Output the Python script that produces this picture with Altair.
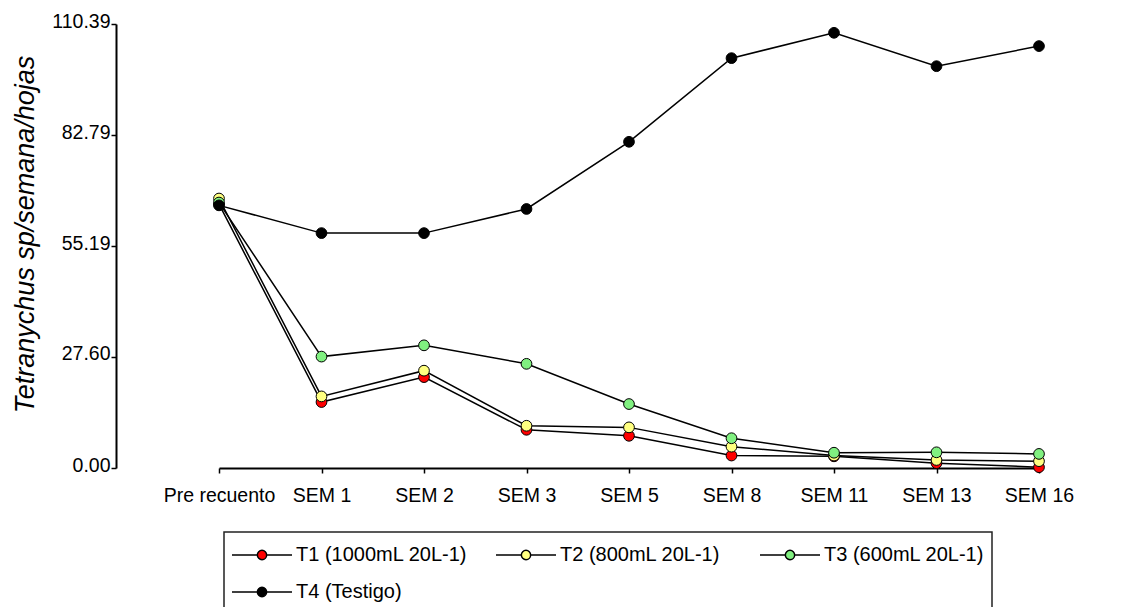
import altair as alt
import pandas as pd

weeks = ["Pre recuento", "SEM 1", "SEM 2", "SEM 3", "SEM 5", "SEM 8", "SEM 11", "SEM 13", "SEM 16"]
series_names = ["T1 (1000mL 20L-1)", "T2 (800mL 20L-1)", "T3 (600mL 20L-1)", "T4 (Testigo)"]
t1 = [65.6, 16.4, 22.6, 9.5, 8.0, 3.1, 2.9, 1.2, 0.2]
t2 = [67.0, 17.8, 24.2, 10.5, 10.1, 5.3, 3.1, 2.0, 1.7]
t3 = [66.0, 27.7, 30.5, 25.9, 15.9, 7.4, 3.8, 3.9, 3.5]
t4 = [65.3, 58.4, 58.4, 64.4, 81.1, 101.9, 108.2, 99.9, 104.9]
fill_colors = ["#ff0000", "#ffff80", "#80f080", "#000000"]
y_ticks = [0.0, 27.60, 55.19, 82.79, 110.39]

rows = []
for name, vals in zip(series_names, [t1, t2, t3, t4]):
    for i, (w, v) in enumerate(zip(weeks, vals)):
        rows.append({"week": w, "value": v, "series": name, "order": series_names.index(name)})
df = pd.DataFrame(rows)

x_enc = alt.X("week:N", sort=weeks,
              scale=alt.Scale(type="point", domain=weeks, range=[103, 923], padding=0),
              axis=alt.Axis(title=None, labelAngle=0, labelFontSize=19.5, labelFont="Liberation Sans",
                            labelColor="black", labelBaseline="alphabetic", labelPadding=28,
                            tickSize=5, labelAlign="center"))
y_enc = alt.Y("value:Q",
              scale=alt.Scale(domain=[0, 110.39], nice=False, zero=True),
              axis=alt.Axis(title="Tetranychus sp/semana/hojas", values=y_ticks, format=".2f",
                            labelFontSize=19.5, labelFont="Liberation Sans", labelColor="black",
                            labelPadding=1, labelOffset=-3, tickSize=5,
                            titleFont="Liberation Sans", titleFontSize=27, titleFontStyle="italic",
                            titleFontWeight="normal", titleColor="black",
                            titleAngle=-90, titleAlign="center", titleBaseline="alphabetic",
                            titleX=-83, titleY=210))

lines = alt.Chart(df).mark_line(color="black", strokeWidth=1.5).encode(
    x=x_enc, y=y_enc, detail="series:N", order="order:Q"
)

sym_path = "M-1,0H0.69M1.31,0H3M0.69,0A0.31,0.31 0 1,0 1.31,0A0.31,0.31 0 1,0 0.69,0Z"

points = alt.Chart(df).mark_point(filled=True, size=115, stroke="black", strokeWidth=1, opacity=1).encode(
    x=x_enc, y=y_enc,
    fill=alt.Fill("series:N", sort=series_names,
                  scale=alt.Scale(domain=series_names, range=fill_colors),
                  legend=alt.Legend(title=None, orient="none", legendX=108, legendY=508,
                                    direction="horizontal",
                                    columns=3, gridAlign="all", columnPadding=25, rowPadding=11,
                                    padding=7, strokeColor="#222222", fillColor="white",
                                    symbolType=sym_path, symbolSize=900,
                                    symbolStrokeColor="black", symbolStrokeWidth=1.5,
                                    symbolOpacity=1,
                                    labelFont="Liberation Sans", labelFontSize=20,
                                    labelColor="black", labelOffset=33, labelLimit=400)),
    order="order:Q"
)

chart = alt.layer(lines, points).properties(
    width=1013, height=444,
    autosize=alt.AutoSizeParams(type="none"),
    padding={"left": 108, "top": 16, "right": 0, "bottom": 139},
).configure_view(stroke=None).configure_axis(
    grid=False, domainColor="black", domainWidth=2, tickColor="black", tickWidth=1.5
).configure_legend(strokeWidth=1.5)

chart.save("out.html", embed_options={"renderer": "svg", "actions": False})
